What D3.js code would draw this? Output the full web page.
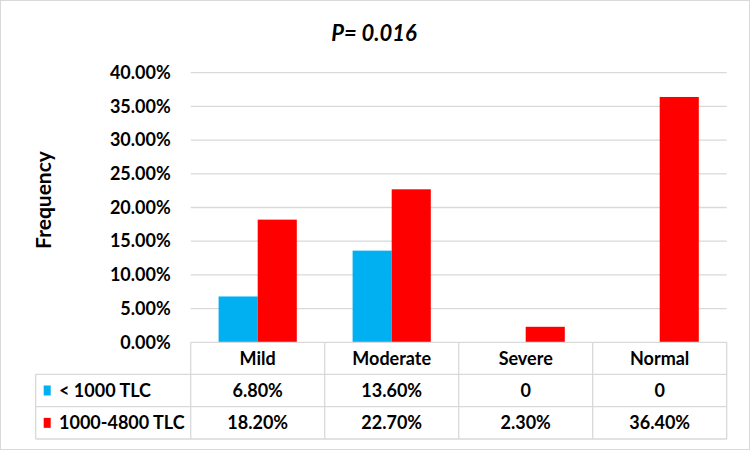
<!DOCTYPE html>
<html><head><meta charset="utf-8">
<script src="https://cdn.jsdelivr.net/npm/d3@7"></script>
<style>body{margin:0;background:#fff}svg{display:block}text{font-family:Lato,"Open Sans",sans-serif;font-weight:bold;fill:#000}</style>
</head><body><svg id="c" width="750" height="450"></svg>
<script>
const categories = ["Mild","Moderate","Severe","Normal"];
const seriesNames = ["< 1000 TLC","1000-4800 TLC"];
const seriesLow = [6.8, 13.6, 0, 0];
const seriesHigh = [18.2, 22.7, 2.3, 36.4];
const tableLow = ["6.80%","13.60%","0","0"];
const tableHigh = ["18.20%","22.70%","2.30%","36.40%"];
const yTicks = [0,5,10,15,20,25,30,35,40];
const colors = ["#00B0F0","#FF0000"];
const title = "P= 0.016";
const yTitle = "Frequency";

const svg = d3.select("#c");
svg.append("rect").attr("x",0.5).attr("y",0.5).attr("width",749).attr("height",449).attr("fill","#fff").attr("stroke","#d9d9d9");

const L=190.7, R=726.7, T=72.7, B=342.3;
const x = d3.scaleBand().domain(categories).range([L,R]).paddingInner(0).paddingOuter(0);
const xs = d3.scaleBand().domain([0,1]).range([0,x.bandwidth()]).paddingInner(0).paddingOuter(0.7135);
const y = d3.scaleLinear().domain([0,40]).range([B,T]);

svg.append("g").selectAll("line").data(yTicks.slice(1)).join("line")
  .attr("x1",L).attr("x2",R).attr("y1",d=>y(d)).attr("y2",d=>y(d))
  .attr("stroke","#d9d9d9").attr("stroke-width",1.3);

const yAxis = d3.axisLeft(y).tickValues(yTicks).tickFormat(d=>d.toFixed(2)+"%").tickSize(0).tickPadding(20);
const ga = svg.append("g").attr("transform",`translate(${L},0)`).call(yAxis);
ga.select(".domain").remove();
ga.selectAll("text").style("font-size","18px").style("font-family","Lato").style("font-weight","bold").attr("fill","#000");

const series=[seriesLow,seriesHigh];
series.forEach((s,si)=>{
  svg.append("g").selectAll("rect").data(categories).join("rect")
    .attr("x",d=>x(d)+xs(si)).attr("width",xs.bandwidth())
    .attr("y",(d,i)=>y(s[i])).attr("height",(d,i)=>B-y(s[i]))
    .attr("fill",colors[si]);
});

const TL=35.7, rows=[B,374.3,406.7,439];
const g=svg.append("g").attr("stroke","#d9d9d9").attr("stroke-width",1.3);
g.append("line").attr("x1",L).attr("x2",R).attr("y1",rows[0]).attr("y2",rows[0]);
[1,2,3].forEach(i=>g.append("line").attr("x1",TL).attr("x2",R).attr("y1",rows[i]).attr("y2",rows[i]));
g.append("line").attr("x1",TL).attr("x2",TL).attr("y1",rows[1]).attr("y2",rows[3]);
categories.forEach(c=>g.append("line").attr("x1",x(c)).attr("x2",x(c)).attr("y1",rows[0]).attr("y2",rows[3]));
g.append("line").attr("x1",R).attr("x2",R).attr("y1",rows[0]).attr("y2",rows[3]);

const fs="18px";
svg.append("g").selectAll("text").data(categories).join("text")
  .attr("x",d=>x(d)+x.bandwidth()/2).attr("y",(rows[0]+rows[1])/2).attr("dy","0.36em")
  .attr("text-anchor","middle").style("font-size",fs).text(d=>d);
[tableLow,tableHigh].forEach((t,ri)=>{
  svg.append("g").selectAll("text").data(categories).join("text")
    .attr("x",d=>x(d)+x.bandwidth()/2).attr("y",(rows[ri+1]+rows[ri+2])/2).attr("dy","0.36em")
    .attr("text-anchor","middle").style("font-size",fs).text((d,i)=>t[i]);
  svg.append("rect").attr("x",43.7).attr("y",(rows[ri+1]+rows[ri+2])/2-5).attr("width",7).attr("height",10).attr("fill",colors[ri]);
  svg.append("text").attr("x",59).attr("y",(rows[ri+1]+rows[ri+2])/2).attr("dy","0.36em")
    .style("font-size",fs).text(seriesNames[ri]);
});

svg.append("text").attr("x",374).attr("y",33).attr("dy","0.36em").attr("text-anchor","middle")
  .style("font-size","22px").style("font-style","italic").text(title);
svg.append("text").attr("transform","translate(43,200) rotate(-90)").attr("dy","0.36em").attr("text-anchor","middle")
  .style("font-size","21px").text(yTitle);
</script></body></html>
